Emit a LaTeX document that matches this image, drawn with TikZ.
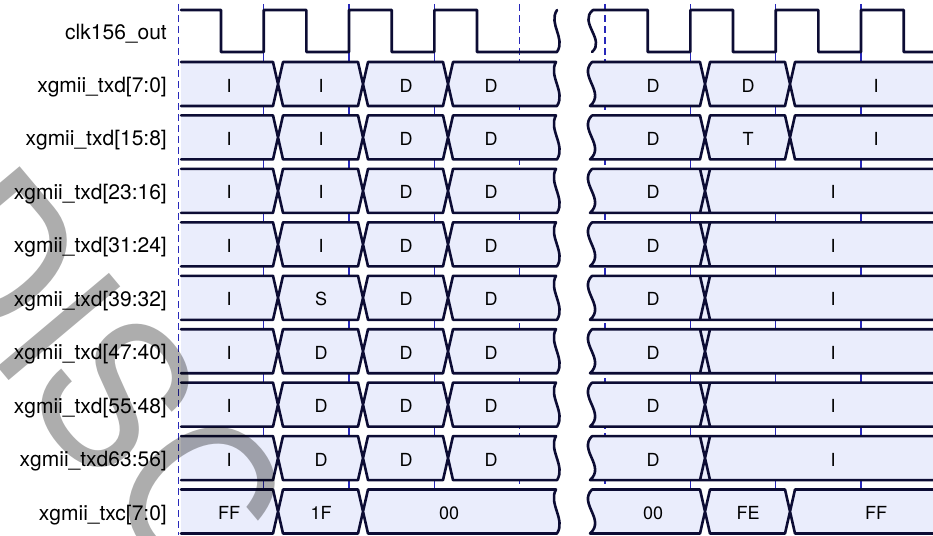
\documentclass[tikz,border=0pt]{standalone}
\usepackage{fontspec}
\setmainfont{TeX Gyre Heros}
\usepackage{tikz}
\usetikzlibrary{positioning}
\definecolor{wavenavy}{RGB}{12,12,52}
\definecolor{busfill}{RGB}{234,237,252}
\definecolor{tickblue}{RGB}{40,40,185}

\begin{document}
\begin{tikzpicture}[
    x=1pt, y=-1pt,
    sig/.style={anchor=base east, inner sep=0pt, font=\fontsize{21}{24}\selectfont},
    val/.style={anchor=base, inner sep=0pt, font=\fontsize{18}{21}\selectfont},
    wave/.style={draw=wavenavy, line width=2.6pt, line join=round, line cap=round},
    bus/.style={wave, fill=busfill},
    tick/.style={tickblue, line width=1.2pt},
    brk/.style={tick, dash pattern=on 7pt off 4pt},
    wmark/.style={inner sep=0pt, text=black, opacity=0.32, font=\fontsize{200}{200}\selectfont}
]
\useasboundingbox (0,0) rectangle (933,535);

% clock edges
\foreach \x in {263.7,349,434.3,690.3,775.7,861}
    \draw[tick] (\x,4) -- (\x,535);
\foreach \x in {178.3,519.7,605}
    \draw[brk] (\x,4) -- (\x,535);

% clock
\draw[wave] (181,10) -| (221,52) -| (263.7,10) -| (306.3,52) -| (349,10) -| (391.7,52)
    -| (434.3,10) -| (477,52) -- (557,52) .. controls (566,38) and (548,24) .. (557,10);
\draw[wave] (592,52) .. controls (606,40) and (578,22) .. (593,10) -| (647.7,52) -| (690.3,10)
    -| (733,52) -| (775.7,10) -| (818.3,52) -| (861,10) -| (903.7,52) -- (945,52);

% buses, left part
\foreach \y in {84,137.4,190.9,244.3,297.8,351.2,404.6,458.1}
    \filldraw[bus] (181,\y-22)
        \foreach \t in {278,363,448} { -- (\t-5,\y-22) -- (\t,\y) -- (\t+5,\y-22) }
        -- (556,\y-22) .. controls (548,\y-8) and (566,\y+8) .. (557,\y+22)
        \foreach \t in {448,363,278} { -- (\t+5,\y+22) -- (\t,\y) -- (\t-5,\y+22) }
        -- (181,\y+22);
\filldraw[bus] (181,489.5)
    \foreach \t in {278,363} { -- (\t-5,489.5) -- (\t,511.5) -- (\t+5,489.5) }
    -- (556,489.5) .. controls (548,503.5) and (566,519.5) .. (557,533.5)
    \foreach \t in {363,278} { -- (\t+5,533.5) -- (\t,511.5) -- (\t-5,533.5) }
    -- (181,533.5);

% buses, right part
\foreach \y/\tl/\tr in {84/790/705,137.4/790/705,511.5/790/705,
                        190.9/705/705,244.3/705/705,297.8/705/705,351.2/705/705,404.6/705/705,458.1/705/705}
    \filldraw[bus] (592,\y-22)
        \foreach \t in {\tr,\tl} { -- (\t-5,\y-22) -- (\t,\y) -- (\t+5,\y-22) }
        -- (945,\y-22) -- (945,\y+22)
        \foreach \t in {\tl,\tr} { -- (\t+5,\y+22) -- (\t,\y) -- (\t-5,\y+22) }
        -- (590,\y+22) .. controls (606,\y+8) and (578,\y-8) .. (592,\y-22);

% signal names
\node[sig] (clk) at (167,39.5) {clk156\_out};
\foreach \y/\s [count=\r] in {84/{xgmii\_txd[7:0]},137.4/{xgmii\_txd[15:8]},190.9/{xgmii\_txd[23:16]},
        244.3/{xgmii\_txd[31:24]},297.8/{xgmii\_txd[39:32]},351.2/{xgmii\_txd[47:40]},
        404.6/{xgmii\_txd[55:48]},458.1/{xgmii\_txd63:56]},511.5/{xgmii\_txc[7:0]}}
    \node[sig] (sig\r) at (167,\y+8.5) {\s};

% values
\foreach \y/\a/\b/\c/\d [count=\r] in {84/I/I/D/D,137.4/I/I/D/D,190.9/I/I/D/D,244.3/I/I/D/D,
        297.8/I/S/D/D,351.2/I/D/D/D,404.6/I/D/D/D,458.1/I/D/D/D}{
    \node[val] (va\r) at (229,\y+8) {\a};
    \node[val] (vb\r) at (321,\y+8) {\b};
    \node[val] (vc\r) at (406,\y+8) {\c};
    \node[val] (vd\r) at (491,\y+8) {\d};
    \node[val] (ve\r) at (653,\y+8) {D};
}
\foreach \y/\f/\g [count=\r] in {84/D/I,137.4/T/I}{
    \node[val] (vf\r) at (748,\y+8) {\f};
    \node[val] (vg\r) at (876,\y+8) {\g};
}
\foreach \y [count=\r from 3] in {190.9,244.3,297.8,351.2,404.6,458.1}
    \node[val] (vg\r) at (833,\y+8) {I};
\node[val] (ctl1) at (229,519.5) {FF};
\node[val] (ctl2) at (321,519.5) {1F};
\node[val] (ctl3) at (449,519.5) {00};
\node[val] (ctl4) at (653,519.5) {00};
\node[val] (ctl5) at (748,519.5) {FE};
\node[val] (ctl6) at (876,519.5) {FF};

% watermark
\node[wmark, rotate=-50, anchor=base west] (wm) at (-103,247) {\scalebox{0.95}[1]{DISC}};
\end{tikzpicture}
\end{document}
